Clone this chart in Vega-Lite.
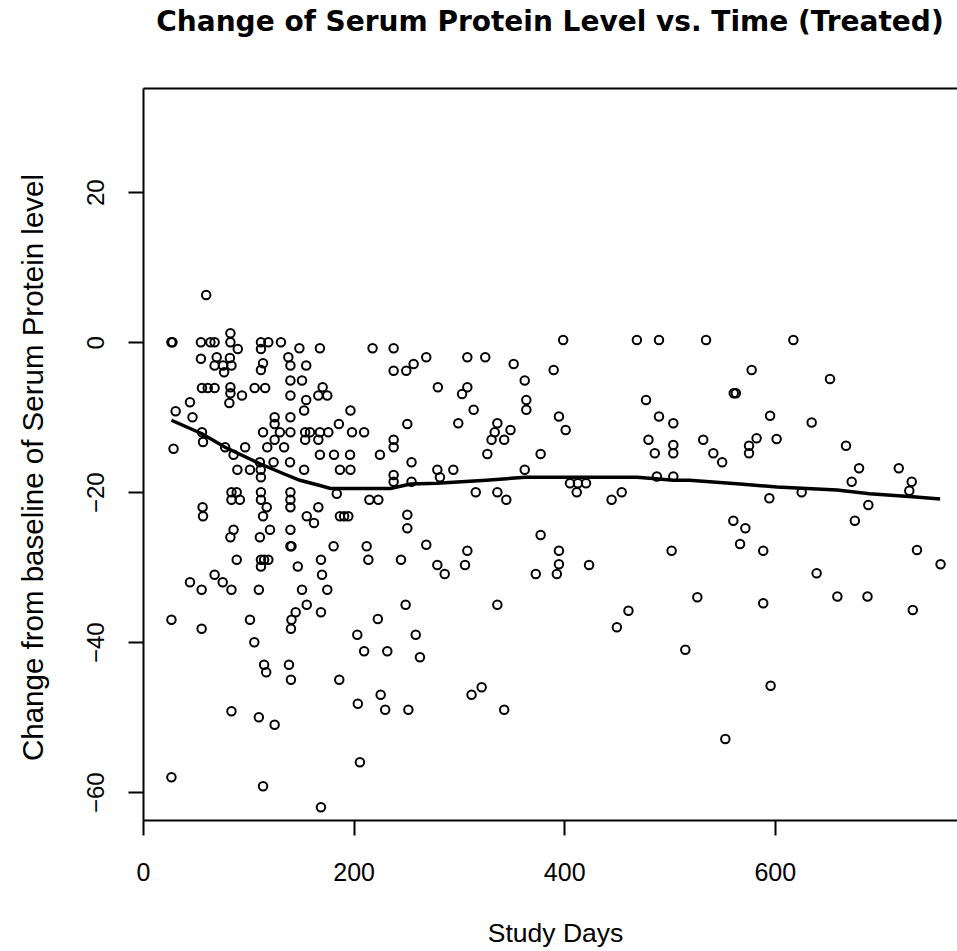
{
  "$schema": "https://vega.github.io/schema/vega-lite/v6.json",
  "autosize": {"type": "none"},
  "padding": {"left": 143, "top": 88, "right": 0, "bottom": 131},
  "width": 814,
  "height": 732,
  "background": "white",
  "config": {"view": {"stroke": null}, "font": "Liberation Sans"},
  "title": {"text": "Change of Serum Protein Level vs. Time (Treated)", "font": "DejaVu Sans", "fontSize": 28, "fontWeight": "bold", "color": "#000000", "anchor": "middle", "frame": "group", "baseline": "alphabetic", "offset": 29},
  "datasets": {
    "points": [
      {"day": 60, "change": 6.3}, {"day": 27, "change": 0}, {"day": 28, "change": 0}, {"day": 55, "change": 0}, {"day": 64, "change": 0}, {"day": 68, "change": 0},
      {"day": 83, "change": 1.2}, {"day": 83, "change": 0}, {"day": 90, "change": -0.9}, {"day": 55, "change": -2.2},
      {"day": 70, "change": -2}, {"day": 68, "change": -3.1}, {"day": 76, "change": -3.1}, {"day": 82.5, "change": -2.1}, {"day": 84, "change": -3.1}, {"day": 77, "change": -4},
      {"day": 112, "change": 0}, {"day": 119, "change": 0}, {"day": 131, "change": 0}, {"day": 112, "change": -0.9},
      {"day": 148.5, "change": -0.8}, {"day": 168, "change": -0.8}, {"day": 138, "change": -2}, {"day": 140, "change": -3.1}, {"day": 155, "change": -3.1},
      {"day": 114, "change": -2.8}, {"day": 112, "change": -3.7}, {"day": 218, "change": -0.8}, {"day": 238, "change": -0.8},
      {"day": 238, "change": -3.8}, {"day": 250, "change": -3.8}, {"day": 257, "change": -2.9},
      {"day": 56, "change": -6.1}, {"day": 61.5, "change": -6.1}, {"day": 68, "change": -6.1},
      {"day": 83, "change": -6}, {"day": 83, "change": -6.8}, {"day": 82, "change": -8.1}, {"day": 94, "change": -7.1}, {"day": 106, "change": -6.1}, {"day": 116, "change": -6.1},
      {"day": 140, "change": -5.1}, {"day": 151, "change": -5.1}, {"day": 140, "change": -7.1},
      {"day": 170.6, "change": -6}, {"day": 166.5, "change": -7.1}, {"day": 175, "change": -7.1},
      {"day": 155, "change": -7.7}, {"day": 153, "change": -9.1},
      {"day": 44.6, "change": -8}, {"day": 31, "change": -9.2}, {"day": 47, "change": -10},
      {"day": 197, "change": -9.1}, {"day": 125, "change": -10}, {"day": 125, "change": -10.9}, {"day": 140, "change": -10},
      {"day": 251, "change": -10.9}, {"day": 186, "change": -10.9},
      {"day": 114, "change": -12}, {"day": 130, "change": -12}, {"day": 140, "change": -12}, {"day": 154, "change": -12}, {"day": 158.6, "change": -12}, {"day": 168, "change": -12}, {"day": 176, "change": -12},
      {"day": 198.5, "change": -12}, {"day": 210, "change": -12}, {"day": 56, "change": -12}, {"day": 57, "change": -13.3},
      {"day": 238, "change": -13}, {"day": 238, "change": -14}, {"day": 29, "change": -14.2},
      {"day": 125, "change": -13}, {"day": 118, "change": -14}, {"day": 134, "change": -14}, {"day": 154, "change": -13}, {"day": 166.5, "change": -13},
      {"day": 78, "change": -14}, {"day": 86, "change": -15}, {"day": 97, "change": -14},
      {"day": 168, "change": -15}, {"day": 181.4, "change": -15}, {"day": 196.6, "change": -15}, {"day": 225, "change": -15}, {"day": 255, "change": -16},
      {"day": 111, "change": -16}, {"day": 124, "change": -16}, {"day": 139.6, "change": -16},
      {"day": 89.6, "change": -17}, {"day": 101.6, "change": -17}, {"day": 111.8, "change": -17}, {"day": 153, "change": -17},
      {"day": 187, "change": -17}, {"day": 197, "change": -17}, {"day": 112, "change": -18},
      {"day": 238, "change": -17.7}, {"day": 238, "change": -18.6}, {"day": 255, "change": -18.6},
      {"day": 184, "change": -20.2}, {"day": 215, "change": -21}, {"day": 223.5, "change": -21},
      {"day": 84, "change": -20}, {"day": 89, "change": -20}, {"day": 84, "change": -21}, {"day": 92, "change": -21},
      {"day": 112, "change": -20}, {"day": 112, "change": -21}, {"day": 117.5, "change": -22}, {"day": 114, "change": -23.2},
      {"day": 140, "change": -20}, {"day": 140, "change": -21}, {"day": 140, "change": -22}, {"day": 166.5, "change": -22},
      {"day": 56.6, "change": -22}, {"day": 57, "change": -23.2}, {"day": 155.5, "change": -23.2}, {"day": 162.4, "change": -24.1},
      {"day": 187, "change": -23.2}, {"day": 191, "change": -23.2}, {"day": 195, "change": -23.2},
      {"day": 251, "change": -23}, {"day": 251, "change": -24.8},
      {"day": 86, "change": -25}, {"day": 83, "change": -26}, {"day": 111, "change": -26}, {"day": 120.6, "change": -25}, {"day": 140, "change": -25},
      {"day": 140, "change": -27.2}, {"day": 141, "change": -27.2}, {"day": 181, "change": -27.2}, {"day": 212.4, "change": -27.2},
      {"day": 89, "change": -29}, {"day": 112, "change": -29}, {"day": 119, "change": -29}, {"day": 112, "change": -29.9}, {"day": 115, "change": -29},
      {"day": 147, "change": -29.9}, {"day": 169, "change": -29}, {"day": 170, "change": -31}, {"day": 175, "change": -33},
      {"day": 214, "change": -29}, {"day": 245, "change": -29},
      {"day": 68, "change": -31}, {"day": 75.7, "change": -32}, {"day": 84, "change": -33}, {"day": 44.6, "change": -32}, {"day": 55.7, "change": -33},
      {"day": 110, "change": -33}, {"day": 151, "change": -33},
      {"day": 155.5, "change": -35}, {"day": 145, "change": -36}, {"day": 141, "change": -37}, {"day": 140.5, "change": -38.2}, {"day": 169, "change": -36},
      {"day": 27, "change": -37}, {"day": 55.7, "change": -38.2}, {"day": 101.6, "change": -37}, {"day": 105.7, "change": -40},
      {"day": 249.4, "change": -35}, {"day": 223, "change": -36.9}, {"day": 203.5, "change": -39}, {"day": 259, "change": -39},
      {"day": 210, "change": -41.2}, {"day": 232, "change": -41.2}, {"day": 263, "change": -42},
      {"day": 115, "change": -43}, {"day": 117, "change": -44}, {"day": 138.6, "change": -43}, {"day": 140.5, "change": -45}, {"day": 186.4, "change": -45},
      {"day": 225.7, "change": -47}, {"day": 204, "change": -48.2}, {"day": 230, "change": -49}, {"day": 252, "change": -49},
      {"day": 84, "change": -49.2}, {"day": 110, "change": -50}, {"day": 125, "change": -51},
      {"day": 206, "change": -56}, {"day": 27, "change": -58}, {"day": 114, "change": -59.2}, {"day": 169, "change": -62},
      {"day": 399, "change": 0.3}, {"day": 469, "change": 0.3}, {"day": 490, "change": 0.3},
      {"day": 269, "change": -2}, {"day": 308, "change": -2}, {"day": 325, "change": -2}, {"day": 352, "change": -2.9}, {"day": 390, "change": -3.7}, {"day": 362.5, "change": -5.1},
      {"day": 280, "change": -6}, {"day": 308, "change": -6}, {"day": 303, "change": -6.9}, {"day": 314, "change": -9},
      {"day": 364, "change": -7.7}, {"day": 364, "change": -9}, {"day": 395, "change": -9.9}, {"day": 401.4, "change": -11.7},
      {"day": 477.7, "change": -7.7}, {"day": 490, "change": -9.9}, {"day": 503.6, "change": -10.8}, {"day": 299.4, "change": -10.8},
      {"day": 336.5, "change": -10.8}, {"day": 334, "change": -12}, {"day": 349, "change": -11.7}, {"day": 331, "change": -13}, {"day": 343, "change": -13},
      {"day": 327, "change": -14.9}, {"day": 377.6, "change": -14.9},
      {"day": 480, "change": -13}, {"day": 486, "change": -14.8}, {"day": 503.6, "change": -13.7}, {"day": 503.6, "change": -14.8},
      {"day": 279.5, "change": -17}, {"day": 282, "change": -18}, {"day": 294.7, "change": -17}, {"day": 362.5, "change": -17},
      {"day": 488, "change": -17.9}, {"day": 503.6, "change": -17.9},
      {"day": 405.5, "change": -18.8}, {"day": 413, "change": -18.8}, {"day": 420.7, "change": -18.8}, {"day": 411.9, "change": -20},
      {"day": 316, "change": -20}, {"day": 336.5, "change": -20}, {"day": 345, "change": -21}, {"day": 445, "change": -21}, {"day": 454.6, "change": -20},
      {"day": 377.6, "change": -25.7}, {"day": 269, "change": -27}, {"day": 308, "change": -27.8}, {"day": 395, "change": -27.8}, {"day": 502, "change": -27.8},
      {"day": 279.5, "change": -29.7}, {"day": 286.5, "change": -30.9}, {"day": 305.8, "change": -29.7}, {"day": 373, "change": -30.9},
      {"day": 395, "change": -29.6}, {"day": 393, "change": -30.9}, {"day": 423.6, "change": -29.7},
      {"day": 336.5, "change": -35}, {"day": 461, "change": -35.8}, {"day": 450, "change": -38}, {"day": 515, "change": -41},
      {"day": 321.6, "change": -46}, {"day": 312, "change": -47}, {"day": 343, "change": -49},
      {"day": 534.7, "change": 0.3}, {"day": 617.6, "change": 0.3}, {"day": 578, "change": -3.7}, {"day": 652.4, "change": -4.9},
      {"day": 561, "change": -6.8}, {"day": 563, "change": -6.8}, {"day": 595.5, "change": -9.8}, {"day": 635, "change": -10.7},
      {"day": 532, "change": -13}, {"day": 582.7, "change": -12.8}, {"day": 575.5, "change": -13.8}, {"day": 575.5, "change": -14.8}, {"day": 601.7, "change": -12.9},
      {"day": 541.6, "change": -14.8}, {"day": 550, "change": -16}, {"day": 667.6, "change": -13.8},
      {"day": 680, "change": -16.8}, {"day": 673, "change": -18.6}, {"day": 717.7, "change": -16.8}, {"day": 730, "change": -18.6}, {"day": 727.7, "change": -19.8},
      {"day": 594.8, "change": -20.8}, {"day": 625.5, "change": -20}, {"day": 688.8, "change": -21.7},
      {"day": 560.6, "change": -23.8}, {"day": 572, "change": -24.8}, {"day": 676, "change": -23.8},
      {"day": 567, "change": -26.9}, {"day": 589, "change": -27.8}, {"day": 735, "change": -27.7},
      {"day": 757.4, "change": -29.6}, {"day": 639.7, "change": -30.8}, {"day": 526.4, "change": -34}, {"day": 589, "change": -34.8},
      {"day": 659.4, "change": -33.9}, {"day": 688, "change": -33.9}, {"day": 731, "change": -35.7}, {"day": 596, "change": -45.8}, {"day": 553, "change": -52.9}
    ],
    "smooth": [
      {"day": 27, "change": -10.4}, {"day": 56, "change": -12.2}, {"day": 78, "change": -14}, {"day": 111, "change": -16.2},
      {"day": 133, "change": -17.5}, {"day": 149, "change": -18.4}, {"day": 168, "change": -19.1}, {"day": 178, "change": -19.5},
      {"day": 235, "change": -19.5}, {"day": 254, "change": -18.9}, {"day": 279, "change": -18.8}, {"day": 326, "change": -18.4},
      {"day": 363, "change": -18}, {"day": 469, "change": -18}, {"day": 504, "change": -18.4}, {"day": 519, "change": -18.4},
      {"day": 567, "change": -18.9}, {"day": 602, "change": -19.3}, {"day": 659, "change": -19.7}, {"day": 690, "change": -20.2},
      {"day": 731, "change": -20.6}, {"day": 757, "change": -20.9}
    ]
  },
  "layer": [
    {
      "data": {"name": "points"},
      "mark": {"type": "point", "shape": "circle", "filled": false, "stroke": "#000000", "strokeWidth": 2, "size": 72, "opacity": 1},
      "encoding": {
        "x": {"field": "day", "type": "quantitative",
          "scale": {"domain": [0, 773], "nice": false, "zero": false},
          "axis": {"orient": "bottom", "values": [0, 200, 400, 600], "grid": false, "offset": 0,
            "domainColor": "#000000", "domainWidth": 2, "tickColor": "#000000", "tickWidth": 2, "tickSize": 15,
            "labelFont": "Liberation Sans", "labelFontSize": 25, "labelColor": "#000000", "labelBaseline": "alphabetic", "labelPadding": 45,
            "labelAlign": "center", "labelFlush": false, "labelOverlap": false,
            "title": "Study Days", "titleFont": "Liberation Sans", "titleFontSize": 26.5, "titleFontWeight": "normal", "titleColor": "#000000",
            "titleAnchor": null, "titleX": 412, "titleY": 121, "titleAlign": "center", "titleBaseline": "alphabetic", "titleAngle": 0}},
        "y": {"field": "change", "type": "quantitative",
          "scale": {"domain": [-63.7, 33.9], "nice": false, "zero": false},
          "axis": {"orient": "left", "values": [-60, -40, -20, 0, 20], "grid": false, "offset": 0,
            "domainColor": "#000000", "domainWidth": 2, "tickColor": "#000000", "tickWidth": 2, "tickSize": 15,
            "labelFont": "Liberation Sans", "labelFontSize": 24, "labelColor": "#000000", "labelAngle": -90, "labelAlign": "center", "labelBaseline": "alphabetic", "labelPadding": 25,
            "labelFlush": false, "labelOverlap": false,
            "title": "Change from baseline of Serum Protein level", "titleFont": "Liberation Sans", "titleFontSize": 29.5, "titleFontWeight": "normal", "titleColor": "#000000",
            "titleAngle": -90, "titleX": -101, "titleY": 379, "titleAlign": "center", "titleBaseline": "alphabetic"}}
      }
    },
    {
      "data": {"name": "smooth"},
      "mark": {"type": "line", "stroke": "#000000", "strokeWidth": 3.5, "interpolate": "linear"},
      "encoding": {
        "x": {"field": "day", "type": "quantitative",
          "axis": {"orient": "top", "labels": false, "ticks": false, "grid": false, "title": null, "domain": true, "domainColor": "#000000", "domainWidth": 2, "offset": 0}},
        "y": {"field": "change", "type": "quantitative"}
      }
    }
  ],
  "resolve": {"axis": {"x": "independent"}}
}
